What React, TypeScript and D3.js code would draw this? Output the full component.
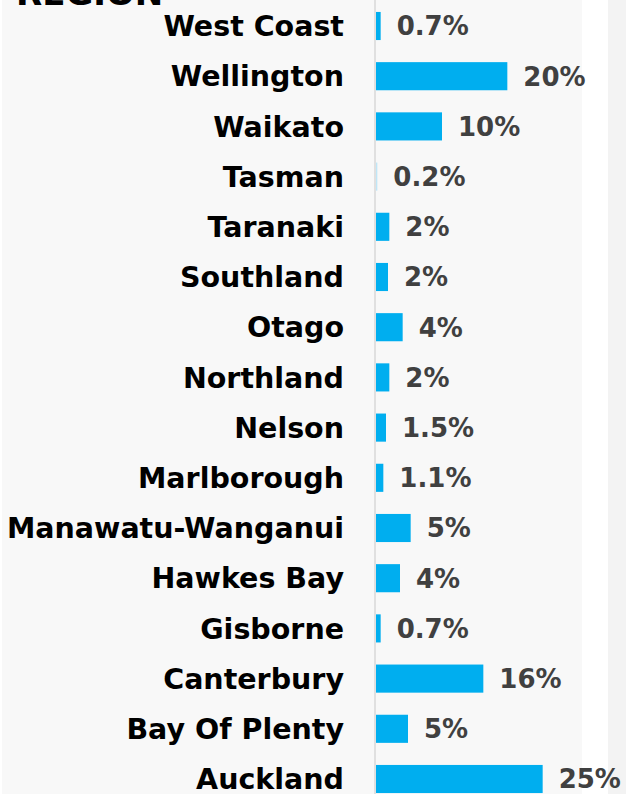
import React from "react";
import * as d3 from "d3";

const regions = [
  "West Coast", "Wellington", "Waikato", "Tasman", "Taranaki", "Southland",
  "Otago", "Northland", "Nelson", "Marlborough", "Manawatu-Wanganui",
  "Hawkes Bay", "Gisborne", "Canterbury", "Bay Of Plenty", "Auckland",
];
const shares = [0.7, 19.7, 9.9, 0.2, 2, 1.8, 4, 2, 1.5, 1.1, 5.2, 3.6, 0.7, 16.1, 4.8, 25];
const shareLabels = [
  "0.7%", "20%", "10%", "0.2%", "2%", "2%", "4%", "2%", "1.5%", "1.1%",
  "5%", "4%", "0.7%", "16%", "5%", "25%",
];
const title = "REGION";

const W = 626;
const H = 794;
const FONT = "'DejaVu Sans', sans-serif";

export default function App() {
  const x = d3.scaleLinear().domain([0, 30]).range([376, 576]);
  const y = d3
    .scaleBand<string>()
    .domain(regions)
    .range([0.9, 804.1])
    .paddingInner(0.44)
    .paddingOuter(0.22);

  return (
    <div style={{ position: "absolute", left: 0, top: 0, width: W, height: H, overflow: "hidden", background: "#fff" }}>
      <svg width={W} height={H} style={{ display: "block" }}>
        <rect x={0} y={0} width={W} height={H} fill="#ffffff" />
        <rect x={2} y={0} width={580} height={H} fill="#f8f8f8" />
        <rect x={608} y={0} width={18} height={H} fill="#f3f3f3" />
        <text x={16} y={5} fontFamily={FONT} fontWeight="bold" fontSize={34} fill="#000">
          {title}
        </text>
        <line x1={375} x2={375} y1={0} y2={H} stroke="#d9d9d9" strokeWidth={1.5} />
        {regions.map((r, i) => {
          const yy = y(r)!;
          const bw = y.bandwidth();
          const cy = yy + bw / 2;
          return (
            <g key={r}>
              <rect x={x(0)} y={yy} width={Math.max(0, x(shares[i]) - x(0))} height={bw} fill={shares[i] < 0.5 ? "#bfe6f7" : "#00aeef"} />
              <text x={344} y={cy} dy="0.36em" textAnchor="end" fontFamily={FONT} fontWeight="bold" fontSize={28.5} fill="#000">
                {r}
              </text>
              <text x={x(shares[i]) + 16} y={cy} dy="0.36em" fontFamily={FONT} fontWeight="bold" fontSize={26} fill="#404040">
                {shareLabels[i]}
              </text>
            </g>
          );
        })}
      </svg>
    </div>
  );
}
